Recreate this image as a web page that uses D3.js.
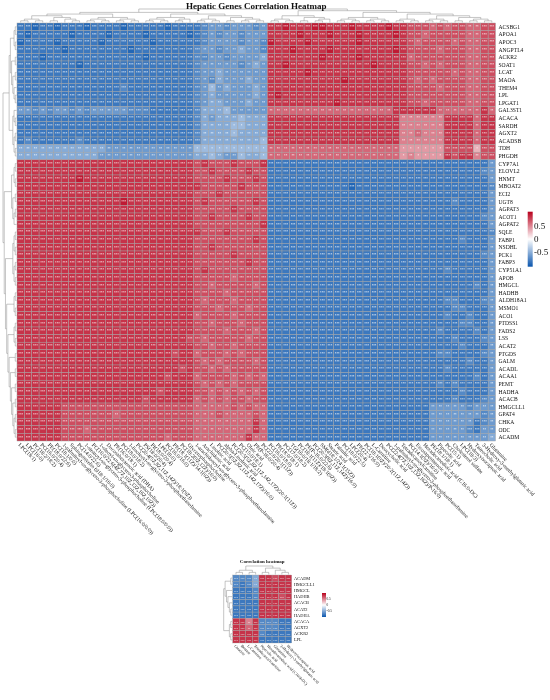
<!DOCTYPE html>
<html lang="en">
<head>
<meta charset="UTF-8">
<title>Hepatic Genes Correlation Heatmap</title>
<style>
  body { margin: 0; background: #fff; }
  #chart svg { will-change: transform; }
  text { font-family: "Liberation Serif", "Times New Roman", serif; fill: #111; }
</style>
</head>
<body>
<div id="chart"></div>
<script src="https://d3js.org/d3.v7.min.js"></script>
<script>
// ---------- main heatmap data ----------
const rowGenes = ["ACSBG1", "APOA1", "APOC3", "ANGPTL4", "ACKR2", "SOAT1", "LCAT", "MAOA", "THEM4", "LPL",
  "LPGAT1", "GAL3ST1", "ACACA", "SARDH", "AGXT2", "ACADSB", "TDH", "PHGDH", "CYP7A1", "ELOVL2",
  "HNMT", "MBOAT2", "ECI2", "UGT8", "AGPAT3", "ACOT1", "AGPAT2", "SQLE", "FABP1", "NSDHL",
  "PCK1", "FABP3", "CYP51A1", "APOB", "HMGCL", "HADHB", "ALDH18A1", "MSMO1", "ACO1", "PTDSS1",
  "FADS2", "LSS", "ACAT2", "PTGDS", "GALM", "ACADL", "ACAA1", "PEMT", "HADHA", "ACACB",
  "HMGCLL1", "GPAT4", "CHKA", "ODC", "ACADM"];

const colMetabolites = ["LPC(18:1)", "LPC(16:0)", "PC(18:2/18:2)", "PC(16:0/20:4)", "PE(18:0/22:6)", "PC(18:1/0:0)",
  "1-palmitoyl-sn-glycero-3-phosphocholine (LPC(16:0/0:0))", "Sphingomyelin (d18:1/16:0)", "PC(14:0/22:6)",
  "1-stearoyl-sn-glycero-3-phosphocholine (LPC(18:0/0:0))", "PC(16:0/22:6(4Z,7Z,10Z,13Z,16Z,19Z))",
  "1-oleoyl-sn-glycero-3-phosphocholine", "Docosahexaenoic acid (DHA)", "PE(16:0/18:1)", "PC(18:0/18:2)",
  "1-linoleoyl-sn-glycero-3-phosphoethanolamine", "PC(20:4(5Z,8Z,11Z,14Z)/18:1(9Z))", "PS(18:0/20:4)",
  "PI(18:0/20:4)", "LPE(18:0)", "PC(16:0/16:0)", "PE(18:1(11Z)/14:1(9Z))", "PC(18:2(9Z,12Z)/16:0)",
  "Glycerophosphocholine", "1-arachidonoyl-sn-glycero-3-phosphoethanolamine", "Arachidonic acid",
  "Linoleic acid", "PC(20:5(5Z,8Z,11Z,14Z,17Z)/16:0)", "alpha-Linolenic acid",
  "PC(20:5(5Z,8Z,11Z,14Z,17Z)/20:1(11Z))", "PC(15:0/18:1)", "Oleic acid", "PE(P-18:0/20:4)",
  "PC(22:6/20:1(11Z))", "PC(16:0/18:0)", "PE(18:0/18:1)", "PC(17:0/18:2)", "TG(16:0/18:1/18:2)",
  "PC(18:1(11Z)/18:1(9Z))", "PE(P-16:0/22:6)", "PC(20:3(8Z,11Z,14Z)/16:0)", "SM(d18:1/24:1(15Z))",
  "Stearic acid", "Palmitic acid", "PC(18:0/22:5)", "LPC(20:4)", "PE(22:5/16:0)",
  "PC(18:1(9Z)/20:2(11Z,14Z))", "L-Carnitine", "Deoxycholic acid", "PC(22:4(7Z,10Z,13Z,16Z)/P-16:0)",
  "1-palmitoyl-sn-glycero-3-phosphoethanolamine", "Tetradecanoylcarnitine", "PC(14:1(9Z)/16:0)",
  "Eicosapentaenoic acid", "Hexadecanedioic acid (C16:0-DC)", "PE(18:1/18:1)", "Pipecolic acid",
  "PC(15:1)", "Cholesterol sulfate", "LPC(18:3)", "Hydroxyisocaproic acid", "Taurocholic acid",
  "3-Hydroxy-3-methylglutaric acid", "Glutamine"];

// one string per gene, one char per metabolite: 1-9 = +0.1..+0.9, a-i = -0.1..-0.9
const corrRows = [
  "hhihhihhhihhhhihhhhhihhh hgffgfffgf 8898889988898888988 777676776677",
  "hihhhhhihhhhihhhhihhhhhi hgfgffgfff 8888988898889888898 776777776677",
  "ihhhhihhhhhihhhhhhihhhhh hgffffgffg 9888898888889888888 767777676677",
  "hhhhhhihhhhhhhhihhhhhhhh gffgffeffg 8889888898888888898 777767776677",
  "hhhihhhhhhhhhhhhhihhhhhh ggffgffffe 8888888988889888888 677777776677",
  "hhhhhhhhihhhhhhhhhhhhhhh gfffffgfef 8898888888888898888 776767776677",
  "hhhhhhhhhhhhhhhhhhhhhhhh gffeffffff 8888898888888888888 777777676677",
  "hhhhhhhhhhhhhhhhhhhhhhhh gfgefffeff 8888888888988888888 767677776677",
  "hhhhhhhhhhhhhhghhhhhhhhh gfdfefffef 8888888888888888888 777767776677",
  "hhhhhhhhhhhhhhhhhhhhhhhh gfefffffef 8988888888888888888 777777776677",
  "hhhhhhhhhhhhhhhhhhhhhhhh gfeefffeff 8888888889888888888 776777776677",
  "ffgfgffgfgfffffggghhhhhh geeedfffff 6666666666666666688 888866666686",
  "hhhhhhhhhhhhhhhhhhhhhhhh gefeeedeee 8888888888888888885 555558888688",
  "hhhhhhhhhhhhhhhhhhhhhhhh geeeeddeee 8888888888888888885 555558888688",
  "hhhhhhhhhhhhhhhhhhhhhhhh geeeedeeee 8888888888888888885 565558888688",
  "hghhhhhhghhhhhhhhhhhhhhh geeeeeeeed 8888888888888888885 555558888688",
  "eeeeeeeeeeeeffffffffffff dddddddddd 6666666666666666664 444447777377",
  "eeeeeeeeeeefffffffffffff eedeffdeed 6666666666666666664 544448788577",
  "888888888888888888888888 7877787778 hhhhhhhhhhhhhhhhhhhhhh hhhhhhhhf",
  "888888888888888888888888 7787777877 hhhhhhhhhhhhhhhhhhhhhh hhhhhhhgf",
  "888888889888888888888888 7777877787 hhhhhhhhhhhhhhhhhhhhhh hhhhhhhhf",
  "888888888888888888888888 8777778777 hhhhhhhhhhhihhhhhhhhhh hhhhhhhhg",
  "888888888888888888888888 7778777777 hhhhhhhhhhhhhhhhhhhhhh hhhhhhhhf",
  "888888888888889888888888 7877777787 hhhhhhhhhhhhhhhhhhhhhh hhhghhhhf",
  "888888888888888888888888 7777787777 hhhhhhhhhhhhhhhhhhhhhh hhhhhhhhf",
  "888888888888888888888888 7787777877 hhhhhhhhhhhhhhhhhhhhhh hhhhhhhgf",
  "888888888888888888888888 7777777778 hhhhhhhhhhhhhhhhhhhhhh hhhhhhhhf",
  "888888888888888888888888 8777877777 hhhhhhhhhhhhhhhhhhhhhh hhhhhhhhg",
  "888888888888888888888888 7777777787 hhhhhhhhhhhhhhhhhhhhhh hhhhghhhf",
  "888888888888888888888888 7787777777 hhhhhhhhhhhhhhhhhhhhhh hhhhhhhhf",
  "888888888888888888888888 7777787777 hhhhhhhhhhhhhhhhhhhhhh hhhhhhhgf",
  "888888888888888888888888 7777777877 hhhhhhhhhhhhhhhhhhhhhh hhhhhhhhf",
  "888888888888888888888888 7877777777 hhhhhhhhhhhhhhhhhhhhhh hhghhhhhf",
  "888888888888888888888888 7777767777 hhhhhhhhhhhhhhhhhhhhhh hhhhhhhhf",
  "888888888888888888888888 7767777767 hhhhhhhhhhhhhhhhhhhhhh hhhhhhghf",
  "888888888888888888888888 7777677777 hhhhhhhhhhhhhhhhhhhhhh hhhhhhhhf",
  "888888888888888888888888 7677767777 hhhhhhhhhhhhhhhhhhhhhh hhgghhhgf",
  "888888888888888888888888 7776777677 hhhhhhhhhhhhhhhhhhhhhh hhhgghhhf",
  "888888888888888888888888 6777767777 hhhhhhhhhhhhhhhhhhhhhh hhghhghhf",
  "888888888888888888888888 7767776777 hhhhhhhhhhhhhhhhhhhhhh hhhhgghhf",
  "888888888888888888888888 7777677767 hhhhhhhhhhhhhhhhhhhhhh hghhhhghf",
  "888888888888888888888887 7677777677 hhhhhhhhhhhhhhhhhhhhhh hhhghhhgf",
  "888888888888888888888888 7767767777 hhhhhhhhhhhhhhhhhhhhhh hhhhghhhf",
  "888888888888888888888788 6777676777 hhhhhhhhhhhhhhhhhhhhhh hgghhhhgf",
  "888888888888888888888888 7676777767 hhhhhhhhhhhhhhhhhhhhhh hhhhhghhf",
  "888888888888888888888878 7767677777 hhhhhhhhhhhhhhhhhhhhhh hhghhhhhf",
  "888888888888888888887888 6777767676 hhhhhhhhhhhhhhhhhhhhhh hhhhhhghf",
  "888888888888888888888888 7676767777 hhhhhhhhhhhhhhhhhhhhhh hghghhhhf",
  "888888888888888888878888 7767676767 hhhhhhhhhhhhhhhhhhhhhh hhhhghhhf",
  "888888888888888887888888 6767677677 hhhhhhhhhhhhhhhhhhhhhh hhhghhhgf",
  "888888777777777777777777 6666676766 hhhhhhhhhhhhhhhhhhhhhh fffffgfff",
  "888888777777767777777777 6667666676 hhhhhhhhhhhhhhhhhhhhhh fffffffgf",
  "888888777777777777777777 6666666686 hhhhhhhhhhhhhhhhhhhhhh ffffffhgf",
  "888888777677777777777777 6666666686 hhhhhhhhhhhhhhhhhhhhhh fffffghff",
  "888888777777777777776777 6666666866 hhhhhhhhhhhhhhhhhhhhhh ffffffffe"
];

// dendrograms as nested leaf indices (leaf order = matrix order)
const rowTree = [
  [[[[0, 1], [2, 3]], [[4, 5], [[6, 7], [8, [9, 10]]]]], [[11, [12, 13]], [[14, 15], [16, 17]]]],
  [[[[18, 19], [20, 21]], [[22, 23], [[24, 25], 26]]],
   [[[[27, 28], [29, 30]], [[31, 32], [33, 34]]],
    [[[35, 36], [37, 38]], [[[39, 40], [41, 42]], [[43, 44], [[45, 46], [[47, 48], [[49, 50], [[51, 52], [53, 54]]]]]]]]]]
];
const colTree = [
  [[[[[0, 1], [2, 3]], [[4, 5], [6, [7, 8]]]], [[[9, 10], [11, 12]], [[13, 14], [15, 16]]]],
   [[[[17, 18], [19, 20]], [[21, 22], 23]], [[[24, 25], [26, 27]], [[28, 29], [[30, 31], [32, 33]]]]]],
  [[[[34, 35], [36, 37]], [[38, 39], [[40, 41], 42]]],
   [[[[43, 44], [45, 46]], [[47, 48], [49, 50]]], [[[51, 52], [53, 54]], [[[55, 56], [57, 58]], [[59, 60], [[61, 62], [63, 64]]]]]]]
];

// ---------- small heatmap data ----------
const subRowGenes = ["ACADM", "HMGCLL1", "HMGCL", "HADHB", "ACACB", "ACAT2", "HADHA", "ACACA", "AGXT2", "ACKR2", "LPL"];
const subColMetabolites = ["Creatine", "Betaine", "L-Carnitine", "Tetradecanoylcarnitine", "Pipecolic acid",
  "Hexadecanedioic acid (C16:0-DC)", "Glutamine", "3-Hydroxy-3-methylglutaric acid", "Hydroxyisocaproic acid"];
const subCorrRows = [
  "ggge 88788", "ghge 88888", "hhhg 88888", "hhhg 88878", "hhhh 88888", "hhhh 88888",
  "hhhh 88888", "8858 ggghh", "8868 ggghh", "8888 ghhhh", "8888 hhhhh"
];
const subRowTree = [[[0, 1], [2, [3, [4, [5, 6]]]]], [[7, 8], [9, 10]]];
const subColTree = [[[0, 1], [2, 3]], [[4, 5], [6, [7, 8]]]];

const legendTicks = [0.5, 0, -0.5];

// ---------- helpers ----------
const decode = s => Array.from(s.replace(/ /g, ""), c => c >= "a" ? -(c.charCodeAt(0) - 96) / 10 : +c / 10);
const matrix = corrRows.map(decode);
const subMatrix = subCorrRows.map(decode);
matrix.forEach((r, i) => { if (r.length !== colMetabolites.length) throw new Error("row " + i + " len " + r.length); });

const color = d3.scaleLinear().domain([-1, 0, 1]).range(["#0b56ae", "#ffffff", "#b8001c"]).clamp(true);
const stars = v => Math.abs(v) >= 0.7 ? "***" : Math.abs(v) >= 0.5 ? "**" : Math.abs(v) >= 0.3 ? "*" : "";

const svg = d3.select("#chart").append("svg")
  .attr("width", 550)
  .attr("height", 700);

const defs = svg.append("defs");
const grad = defs.append("linearGradient")
  .attr("id", "legend-grad")
  .attr("x1", 0).attr("y1", 0).attr("x2", 0).attr("y2", 1);
[[0, 1.05], [0.5, 0], [1, -1.05]].forEach(([o, v]) =>
  grad.append("stop").attr("offset", o).attr("stop-color", color(v)));

function drawDendro(g, tree, band, orient, edge, far) {
  const root = d3.hierarchy(tree, d => Array.isArray(d) ? d : null);
  const lvl = d3.scaleLinear().domain([0, root.height]).range([edge, far]);
  root.eachAfter(n => {
    n.pos = n.children
      ? (n.children[0].pos + n.children[n.children.length - 1].pos) / 2
      : band(n.data) + band.bandwidth() / 2;
    n.lv = lvl(n.height);
  });
  g.selectAll("path")
    .data(root.links())
    .join("path")
    .attr("d", l => orient === "top"
      ? `M${l.target.pos},${l.target.lv}V${l.source.lv}H${l.source.pos}`
      : `M${l.target.lv},${l.target.pos}H${l.source.lv}V${l.source.pos}`)
    .attr("fill", "none")
    .attr("stroke", "#8a8a8a")
    .attr("stroke-width", 0.5);
}

function drawHeatmap(cfg) {
  const x = d3.scaleBand().domain(d3.range(cfg.cols.length)).range(cfg.xRange);
  const y = d3.scaleBand().domain(d3.range(cfg.rows.length)).range(cfg.yRange);
  const g = svg.append("g");
  const cells = cfg.data.flatMap((r, i) => r.map((v, j) => ({ i, j, v })));

  g.selectAll("rect.cell")
    .data(cells)
    .join("rect")
    .attr("class", "cell")
    .attr("x", d => x(d.j))
    .attr("y", d => y(d.i))
    .attr("width", x.bandwidth())
    .attr("height", y.bandwidth())
    .attr("fill", d => color(d.v))
    .attr("stroke", "#a3a3a3")
    .attr("stroke-width", cfg.stroke);

  g.selectAll("text.star")
    .data(cells)
    .join("text")
    .attr("class", "star")
    .attr("x", d => x(d.j) + x.bandwidth() / 2)
    .attr("y", d => y(d.i) + y.bandwidth() / 2 + cfg.starSize * 0.45)
    .attr("text-anchor", "middle")
    .style("font-size", cfg.starSize + "px")
    .style("fill", "#fff")
    .text(d => stars(d.v));

  // row labels
  g.selectAll("text.row")
    .data(cfg.rows)
    .join("text")
    .attr("class", "row")
    .attr("x", cfg.xRange[1] + cfg.labelGap)
    .attr("y", (d, i) => y(i) + y.bandwidth() / 2)
    .attr("dy", "0.35em")
    .style("font-size", cfg.rowFont + "px")
    .text(d => d);

  // column labels, rotated
  g.selectAll("text.col")
    .data(cfg.cols)
    .join("text")
    .attr("class", "col")
    .attr("transform", (d, j) => `translate(${x(j) + x.bandwidth() / 2 - cfg.colFont * 0.25},${cfg.yRange[1] + cfg.labelGap}) rotate(45)`)
    .attr("dy", "0.35em")
    .style("font-size", cfg.colFont + "px")
    .text(d => d);

  drawDendro(svg.append("g"), cfg.colTree, x, "top", cfg.yRange[0] - 0.5, cfg.yRange[0] - cfg.dendroSize);
  drawDendro(svg.append("g"), cfg.rowTree, y, "left", cfg.xRange[0] - 0.5, cfg.xRange[0] - cfg.dendroSize);

  // legend
  const ly = d3.scaleLinear().domain([-1.05, 1.05]).range(cfg.legendY);
  svg.append("rect")
    .attr("x", cfg.legendX)
    .attr("y", ly(1.05))
    .attr("width", cfg.legendW)
    .attr("height", ly(-1.05) - ly(1.05))
    .attr("fill", "url(#legend-grad)");
  svg.selectAll(null)
    .data(legendTicks)
    .join("text")
    .attr("x", cfg.legendX + cfg.legendW + cfg.legendFont * 0.15)
    .attr("y", d => ly(d))
    .attr("dy", "0.35em")
    .style("font-size", cfg.legendFont + "px")
    .text(d => d);

  svg.append("text")
    .attr("x", (cfg.xRange[0] + cfg.xRange[1]) / 2)
    .attr("y", cfg.titleY)
    .attr("text-anchor", "middle")
    .style("font-size", cfg.titleFont + "px")
    .style("font-weight", "bold")
    .text(cfg.title);
}

drawHeatmap({
  rows: rowGenes, cols: colMetabolites, data: matrix, rowTree, colTree,
  xRange: [17, 495.5], yRange: [23, 441], stroke: 0.45, starSize: 3.2,
  labelGap: 3, rowFont: 5.6, colFont: 5.4, dendroSize: 14,
  legendX: 527.7, legendW: 5, legendY: [266.7, 211.7], legendFont: 9,
  title: "Hepatic Genes Correlation Heatmap", titleY: 8.5, titleFont: 9
});

drawHeatmap({
  rows: subRowGenes, cols: subColMetabolites, data: subMatrix, rowTree: subRowTree, colTree: subColTree,
  xRange: [232.7, 291.7], yRange: [575, 643], stroke: 0.35, starSize: 2.6,
  labelGap: 2.2, rowFont: 4.4, colFont: 4, dendroSize: 9,
  legendX: 322, legendW: 4, legendY: [617, 593], legendFont: 3.4,
  title: "Correlation heatmap", titleY: 563, titleFont: 5
});
</script>
</body>
</html>
